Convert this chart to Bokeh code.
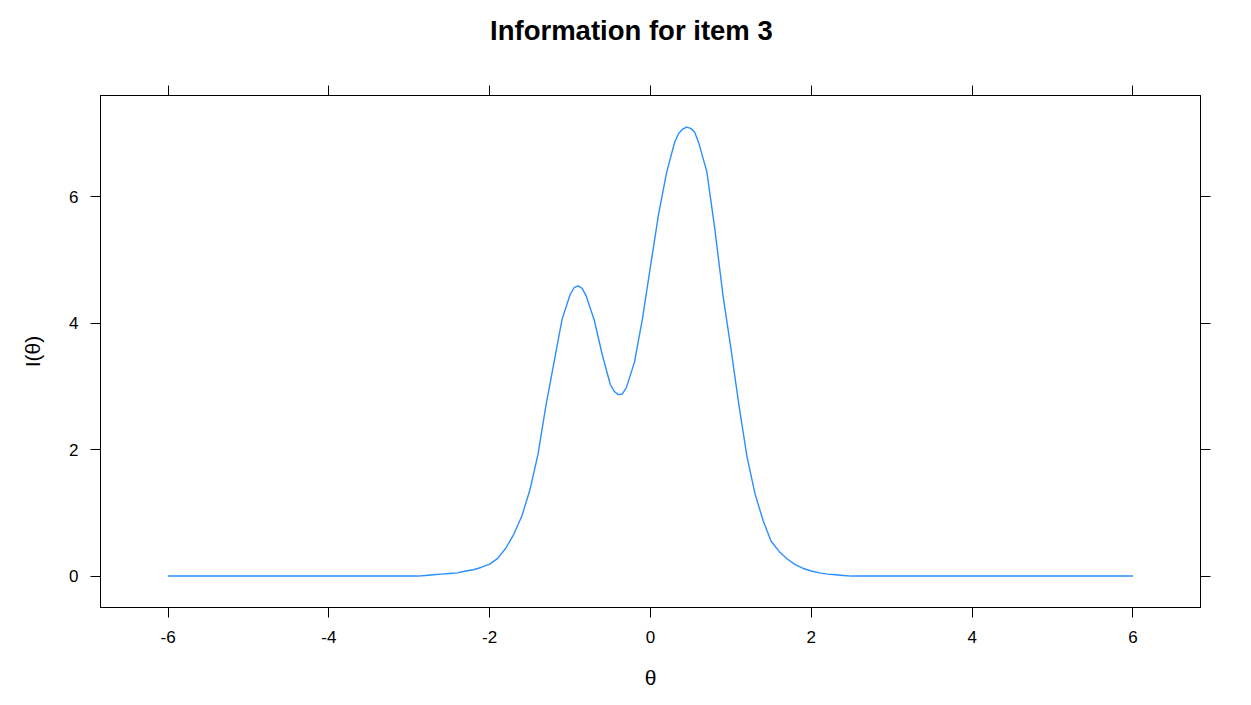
from bokeh.plotting import figure
from bokeh.models import LinearAxis, Range1d, FixedTicker
from bokeh.embed import file_html
from bokeh.resources import INLINE

# ---- data ----
theta = [-6.0, -5.0, -4.0, -3.0, -2.9, -2.8, -2.7, -2.6, -2.5, -2.4, -2.3, -2.2, -2.1,
         -2.0, -1.9, -1.8, -1.7, -1.6, -1.5, -1.4, -1.3, -1.2, -1.1,
         -1.0, -0.95, -0.9, -0.85, -0.8, -0.7, -0.6, -0.5, -0.45, -0.4, -0.35, -0.3, -0.2, -0.1,
         0.0, 0.1, 0.2, 0.3, 0.35, 0.4, 0.45, 0.5, 0.55, 0.6, 0.7, 0.8, 0.9,
         1.0, 1.1, 1.2, 1.3, 1.4, 1.5, 1.6, 1.7, 1.8, 1.9,
         2.0, 2.1, 2.2, 2.3, 2.4, 2.5, 3.0, 4.0, 5.0, 6.0]
info = [0.0, 0.0, 0.0, 0.0, 0.0, 0.01, 0.02, 0.03, 0.04, 0.05, 0.08, 0.10, 0.14,
        0.19, 0.28, 0.44, 0.66, 0.95, 1.36, 1.92, 2.70, 3.38, 4.06,
        4.45, 4.56, 4.59, 4.55, 4.43, 4.05, 3.50, 3.03, 2.92, 2.87, 2.88, 2.98, 3.38, 4.07,
        4.90, 5.72, 6.38, 6.86, 7.00, 7.07, 7.10, 7.08, 7.02, 6.85, 6.40, 5.49, 4.45,
        3.60, 2.70, 1.89, 1.30, 0.88, 0.55, 0.39, 0.27, 0.18, 0.12,
        0.08, 0.05, 0.03, 0.02, 0.01, 0.0, 0.0, 0.0, 0.0, 0.0]
x_ticks = [-6, -4, -2, 0, 2, 4, 6]
y_ticks = [0, 2, 4, 6]
title_text = "Information for item 3"
x_label = "θ"
y_label = "I(θ)"

FONT = "Liberation Sans"
W, H = 1235, 697

p = figure(width=W, height=H, output_backend="svg", toolbar_location=None,
           x_range=Range1d(-6.84, 6.84), y_range=Range1d(-0.497, 7.6),
           min_border_left=100, min_border_right=35, min_border_top=95,
           min_border_bottom=90)
p.grid.visible = False
p.outline_line_color = "black"
p.outline_line_width = 1
p.background_fill_color = "white"
p.border_fill_color = "white"

p.line(theta, info, line_color="#2a8fff", line_width=1.4)

def style_axis(ax, ticks, show_labels):
    ax.ticker = FixedTicker(ticks=ticks)
    ax.major_label_overrides = {t: str(t) for t in ticks}
    ax.axis_line_color = "black"
    ax.major_tick_line_color = "black"
    ax.major_tick_out = 10
    ax.major_tick_in = 0
    ax.minor_tick_line_color = None
    ax.major_label_text_font = FONT
    ax.major_label_text_font_size = "17px"
    ax.major_label_text_color = "black" if show_labels else None
    ax.major_label_standoff = 12
    ax.axis_label_text_font = FONT
    ax.axis_label_text_font_size = "21px"
    ax.axis_label_text_font_style = "normal"
    ax.axis_label_text_color = "black"

style_axis(p.xaxis[0], x_ticks, True)
p.xaxis[0].axis_label = x_label
p.xaxis[0].major_label_standoff = 13
p.xaxis[0].axis_label_standoff = 20
style_axis(p.yaxis[0], y_ticks, True)
p.yaxis[0].axis_label = y_label
p.yaxis[0].axis_label_standoff = 22
p.yaxis[0].major_label_orientation = "horizontal"

# top axis: ticks only, and it carries the page title as its label
top = LinearAxis()
style_axis(top, x_ticks, False)
top.major_label_text_font_size = "1px"
top.major_label_standoff = 0
top.axis_label = title_text + "\u00a0" * 5
top.axis_label_text_font_size = "27.5px"
top.axis_label_text_font_style = "bold"
top.axis_label_standoff = 40
p.add_layout(top, "above")

right = LinearAxis()
style_axis(right, y_ticks, False)
p.add_layout(right, "right")

open("out.html", "w").write(file_html(p, INLINE))
